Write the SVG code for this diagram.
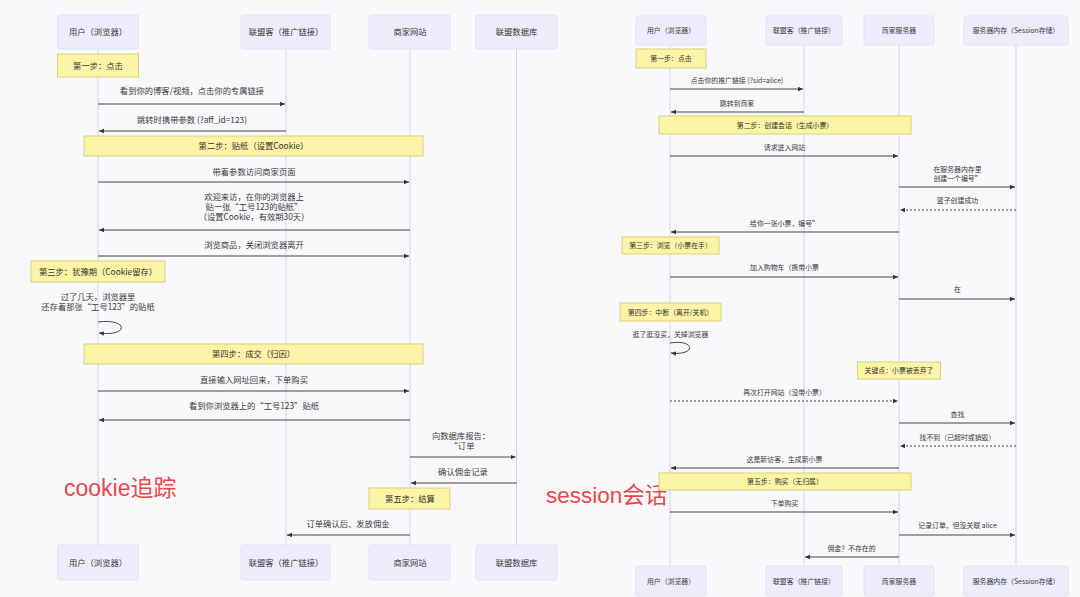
<svg xmlns="http://www.w3.org/2000/svg" width="1080" height="597" viewBox="0 0 1080 597">
<defs>
<marker id="ah" markerWidth="6" markerHeight="5" refX="5" refY="2.2" orient="auto" markerUnits="userSpaceOnUse">
<path d="M0,0 L5,2.2 L0,4.4 z" fill="#333"/>
</marker>
<style>
text{font-family:"Noto Sans CJK SC","Noto Sans",sans-serif;fill:#3a3a3a;text-anchor:middle;}
.actor rect{fill:#ececfa;stroke:#e2e2f6;stroke-width:1;}
.L text{font-size:8.3px;}
.R text{font-size:6.9px;}
.note rect{fill:#fbf3a6;stroke:#d9d27c;stroke-width:1;}
.note text{fill:#333;}
.life{stroke:#d3d3f3;stroke-width:1;fill:none;}
.msg{stroke:#444;stroke-width:1;fill:none;marker-end:url(#ah);}
.dot{stroke-dasharray:2,2;}
.big{font-family:"Liberation Sans","Noto Sans CJK SC",sans-serif;fill:#e5484d;text-anchor:start;}
</style>
</defs>
<rect width="1080" height="597" fill="#f8f8fa"/>

<g id="lifelines-left" class="L">
<line class="life" x1="98" y1="49" x2="98" y2="545"/>
<line class="life" x1="286" y1="49" x2="286" y2="545"/>
<line class="life" x1="410" y1="49" x2="410" y2="545"/>
<line class="life" x1="516.5" y1="49" x2="516.5" y2="545"/>
</g>
<g id="lifelines-right">
<line class="life" x1="670" y1="45" x2="670" y2="566"/>
<line class="life" x1="804" y1="45" x2="804" y2="566"/>
<line class="life" x1="899" y1="45" x2="899" y2="566"/>
<line class="life" x1="1016" y1="45" x2="1016" y2="566"/>
</g>

<!-- Left actors -->
<g class="L">
<g id="L-user-top" class="actor"><rect x="57.5" y="15" width="81" height="34" rx="2"/><text x="98" y="35">用户（浏览器）</text></g>
<g id="L-aff-top" class="actor"><rect x="241" y="15" width="89" height="34" rx="2"/><text x="286" y="35">联盟客（推广链接）</text></g>
<g id="L-shop-top" class="actor"><rect x="369" y="15" width="81" height="34" rx="2"/><text x="410" y="35">商家网站</text></g>
<g id="L-db-top" class="actor"><rect x="476" y="15" width="81" height="34" rx="2"/><text x="516.5" y="35">联盟数据库</text></g>
<g id="L-user-bot" class="actor"><rect x="57.5" y="545" width="81" height="35" rx="2"/><text x="98" y="565.5">用户（浏览器）</text></g>
<g id="L-aff-bot" class="actor"><rect x="241" y="545" width="89" height="35" rx="2"/><text x="286" y="565.5">联盟客（推广链接）</text></g>
<g id="L-shop-bot" class="actor"><rect x="369" y="545" width="81" height="35" rx="2"/><text x="410" y="565.5">商家网站</text></g>
<g id="L-db-bot" class="actor"><rect x="476" y="545" width="81" height="35" rx="2"/><text x="516.5" y="565.5">联盟数据库</text></g>

<g id="L-note1" class="note"><rect x="57.5" y="54" width="81" height="23"/><text x="98" y="68.5">第一步：点击</text></g>
<g id="L-note2" class="note"><rect x="84" y="136" width="339" height="20"/><text x="253.5" y="149">第二步：贴纸（设置Cookie）</text></g>
<g id="L-note3" class="note"><rect x="31" y="261" width="134" height="21"/><text x="98" y="274.5">第三步：犹豫期（Cookie留存）</text></g>
<g id="L-note4" class="note"><rect x="84" y="344" width="339" height="20"/><text x="253.5" y="357">第四步：成交（归因）</text></g>
<g id="L-note5" class="note"><rect x="369" y="488" width="81" height="21"/><text x="410" y="501.5">第五步：结算</text></g>
</g>

<g id="connectors-left" class="L">
<text x="192" y="94">看到你的博客/视频，点击你的专属链接</text>
<line class="msg" x1="98" y1="104" x2="285" y2="104"/>
<text x="192" y="123">跳转时携带参数 (?aff_id=123)</text>
<line class="msg" x1="286" y1="131" x2="99" y2="131"/>
<text x="254" y="175">带着参数访问商家页面</text>
<line class="msg" x1="98" y1="182" x2="409" y2="182"/>
<text x="254" y="200">欢迎来访，在你的浏览器上</text>
<text x="254" y="210">贴一张“工号123的贴纸”</text>
<text x="254" y="220">（设置Cookie，有效期30天）</text>
<line class="msg" x1="410" y1="230" x2="99" y2="230"/>
<text x="254" y="248">浏览商品，关闭浏览器离开</text>
<line class="msg" x1="98" y1="256" x2="409" y2="256"/>
<text x="98" y="300">过了几天，浏览器里</text>
<text x="98" y="310">还存着那张“工号123”的贴纸</text>
<path class="msg" d="M98,322 C129,318 129,337 99,333"/>
<text x="254" y="383">直接输入网址回来，下单购买</text>
<line class="msg" x1="98" y1="391" x2="409" y2="391"/>
<text x="254" y="409">看到你浏览器上的“工号123”贴纸</text>
<line class="msg" x1="410" y1="420" x2="99" y2="420"/>
<text x="461" y="439">向数据库报告：</text>
<text x="462" y="449">“订单</text>
<line class="msg" x1="410" y1="457" x2="515.5" y2="457"/>
<text x="463" y="475">确认佣金记录</text>
<line class="msg" x1="516.5" y1="483" x2="411" y2="483"/>
<text x="348" y="527">订单确认后、发放佣金</text>
<line class="msg" x1="410" y1="535" x2="287" y2="535"/>
</g>

<text class="big" x="64" y="496" font-size="23">cookie追踪</text>
<text class="big" x="546" y="503" font-size="22.5">session会话</text>

<!-- Right actors -->
<g class="R">
<g id="R-user-top" class="actor"><rect x="636" y="16" width="70" height="29" rx="2"/><text x="671" y="33">用户（浏览器）</text></g>
<g id="R-aff-top" class="actor"><rect x="766" y="16" width="76" height="29" rx="2"/><text x="804" y="33">联盟客（推广链接）</text></g>
<g id="R-srv-top" class="actor"><rect x="864" y="16" width="70" height="29" rx="2"/><text x="899" y="33">商家服务器</text></g>
<g id="R-mem-top" class="actor"><rect x="964" y="16" width="104" height="29" rx="2"/><text x="1016" y="33">服务器内存（Session存储）</text></g>
<g id="R-user-bot" class="actor"><rect x="636" y="566" width="70" height="30" rx="2"/><text x="671" y="583.5">用户（浏览器）</text></g>
<g id="R-aff-bot" class="actor"><rect x="766" y="566" width="76" height="30" rx="2"/><text x="804" y="583.5">联盟客（推广链接）</text></g>
<g id="R-srv-bot" class="actor"><rect x="864" y="566" width="70" height="30" rx="2"/><text x="899" y="583.5">商家服务器</text></g>
<g id="R-mem-bot" class="actor"><rect x="964" y="566" width="104" height="30" rx="2"/><text x="1016" y="583.5">服务器内存（Session存储）</text></g>

<g id="R-note1" class="note"><rect x="636" y="49" width="70" height="19"/><text x="671" y="61">第一步：点击</text></g>
<g id="R-note2" class="note"><rect x="659" y="116" width="252" height="18"/><text x="785" y="127.5">第二步：创建会话（生成小票）</text></g>
<g id="R-note3" class="note"><rect x="622" y="237" width="97" height="17"/><text x="670.5" y="248">第三步：浏览（小票在手）</text></g>
<g id="R-note4" class="note"><rect x="620" y="303" width="101" height="18"/><text x="670.5" y="314.5">第四步：中断（离开/关机）</text></g>
<g id="R-note5" class="note"><rect x="857.5" y="362" width="83" height="17"/><text x="899" y="373">关键点：小票被丢弃了</text></g>
<g id="R-note6" class="note"><rect x="659" y="473" width="252" height="17"/><text x="785" y="484">第五步：购买（无归属）</text></g>
</g>

<g id="connectors-right" class="R">
<text x="737" y="82.5">点击你的推广链接 (?sid=alice)</text>
<line class="msg" x1="670" y1="89" x2="803" y2="89"/>
<text x="737" y="105.5">跳转到商家</text>
<line class="msg" x1="804" y1="112" x2="671" y2="112"/>
<text x="784.5" y="149.5">请求进入网站</text>
<line class="msg" x1="670" y1="156" x2="898" y2="156"/>
<text x="957.5" y="171.5">在服务器内存里</text>
<text x="957.5" y="180.5">创建一个编号”</text>
<line class="msg" x1="899" y1="187" x2="1015" y2="187"/>
<text x="957.5" y="202.5">篮子创建成功</text>
<line class="msg dot" x1="1016" y1="210" x2="900" y2="210"/>
<text x="784.5" y="225.5">给你一张小票，编号”</text>
<line class="msg" x1="899" y1="232" x2="671" y2="232"/>
<text x="784.5" y="269.5">加入购物车（携带小票</text>
<line class="msg" x1="670" y1="277" x2="898" y2="277"/>
<text x="957.5" y="291.5">在</text>
<line class="msg" x1="899" y1="299" x2="1015" y2="299"/>
<text x="670.5" y="336.5">逛了逛没买，关掉浏览器</text>
<path class="msg" d="M670,343 C696,339 696,356 671,353"/>
<text x="784.5" y="394.5">再次打开网站（没带小票）</text>
<line class="msg dot" x1="670" y1="401" x2="898" y2="401"/>
<text x="957.5" y="416.5">查找</text>
<line class="msg" x1="899" y1="423" x2="1015" y2="423"/>
<text x="957.5" y="439.5">找不到（已超时或销毁）</text>
<line class="msg dot" x1="1016" y1="446" x2="900" y2="446"/>
<text x="784.5" y="461.5">这是新访客，生成新小票</text>
<line class="msg" x1="899" y1="468" x2="671" y2="468"/>
<text x="784.5" y="505.5">下单购买</text>
<line class="msg" x1="670" y1="512" x2="898" y2="512"/>
<text x="957.5" y="527.5">记录订单，但没关联 alice</text>
<line class="msg" x1="899" y1="535" x2="1015" y2="535"/>
<text x="851.5" y="550.5">佣金？不存在的</text>
<line class="msg" x1="899" y1="557" x2="805" y2="557"/>
</g>
</svg>
